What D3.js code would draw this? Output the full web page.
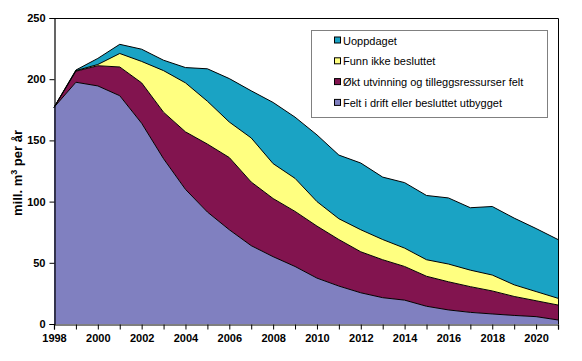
<!DOCTYPE html>
<html>
<head>
<meta charset="utf-8">
<script src="https://cdn.jsdelivr.net/npm/d3@7"></script>
<style>
  body { margin: 0; background: #fff; }
  text { font-family: Arial, "Liberation Sans", sans-serif; }
</style>
</head>
<body>
<div id="myVis"></div>
<script>
var margin = {top: 18, right: 24, bottom: 37, left: 54},
    width = 582 - margin.left - margin.right,
    height = 361 - margin.top - margin.bottom;

// data (mill. m3 per år)
const years = d3.range(1998, 2022);
const felt = [177, 197.5, 194.5, 186.5, 164, 135, 110, 91.5, 77, 64, 55, 47, 37.5, 31, 25.5, 21.5, 19.5, 14.5, 11.5, 9.5, 8.2, 7, 6, 3.3];
const okt = [0, 9, 16.5, 23.5, 33, 38, 47, 55.5, 59, 52, 47.5, 45, 42.5, 38, 33.5, 31, 27.5, 24.5, 23, 21, 18.8, 15.5, 13, 12.2];
const funn = [0, 0.5, 1, 11, 17.5, 34, 40, 35, 29, 36, 28.5, 27, 20, 17, 18, 16.5, 15, 13.5, 14.5, 13.5, 13, 9.5, 7.5, 5.5];
const uopp = [0, 0.5, 5, 7.5, 10, 8.5, 12.5, 26.5, 35.5, 38.5, 50, 50, 54.5, 52, 54.5, 51, 53.5, 52.5, 54, 51, 56, 54.5, 51.5, 48];

const seriesKeys = ["felt", "okt", "funn", "uopp"];
const seriesNames = {
  uopp: "Uoppdaget",
  funn: "Funn ikke besluttet",
  okt: "Økt utvinning og tilleggsressurser felt",
  felt: "Felt i drift eller besluttet utbygget"
};
const colors = {felt: "#8080c0", okt: "#82144f", funn: "#ffff80", uopp: "#1aa3c4"};
const yTicks = [0, 50, 100, 150, 200, 250];
const xLabels = d3.range(1998, 2022, 2);

const table = years.map((y, i) => ({year: y, felt: felt[i], okt: okt[i], funn: funn[i], uopp: uopp[i]}));

const svg = d3.select("#myVis")
  .append("svg")
    .attr("width", width + margin.left + margin.right)
    .attr("height", height + margin.top + margin.bottom);

const canvas = svg.append("g")
    .attr("transform", "translate(" + margin.left + "," + margin.top + ")");

var xScale = d3.scaleLinear().domain([1998, 2021]).range([0, width]);
var yScale = d3.scaleLinear().domain([0, 250]).range([height, 0]);

const stacked = d3.stack().keys(seriesKeys)(table);

const area = d3.area()
  .x(d => xScale(d.data.year))
  .y0(d => yScale(d[0]))
  .y1(d => yScale(d[1]));

const topLine = d3.line()
  .x(d => xScale(d.data.year))
  .y(d => yScale(d[1]));

canvas.selectAll(".area")
  .data(stacked)
  .enter()
  .append("path")
    .attr("class", "area")
    .attr("d", area)
    .attr("fill", d => colors[d.key]);

canvas.selectAll(".edge")
  .data(stacked)
  .enter()
  .append("path")
    .attr("class", "edge")
    .attr("d", topLine)
    .attr("fill", "none")
    .attr("stroke", "#000")
    .attr("stroke-width", 1);

// frame top + right
canvas.append("path")
  .attr("d", "M0.5,0.5H" + (width + 0.5) + "V" + height)
  .attr("fill", "none")
  .attr("stroke", "#000");

// y axis
const yAxis = canvas.append("g")
  .attr("transform", "translate(0.5,0)")
  .call(d3.axisLeft(yScale).tickValues(yTicks).tickSize(5).tickPadding(4));

// x axis: ticks every year, labels every second year
const xAxis = canvas.append("g")
  .attr("transform", "translate(0," + (height + 0.5) + ")")
  .call(d3.axisBottom(xScale).tickValues(years).tickSize(5).tickPadding(5)
    .tickFormat(d => xLabels.includes(d) ? String(d) : ""));

[yAxis, xAxis].forEach(ax => {
  ax.select(".domain").attr("stroke", "#000").attr("stroke-width", 1.2);
  ax.selectAll(".tick line").attr("stroke", "#000");
  ax.selectAll("text")
    .attr("fill", "#000")
    .style("font-size", "11px")
    .style("font-weight", "bold")
    .style("font-family", "Arial, 'Liberation Sans', sans-serif");
});

// y label
const yLab = svg.append("text")
  .attr("transform", "translate(22," + (margin.top + height / 2 + 2) + ") rotate(-90)")
  .attr("text-anchor", "middle")
  .style("font-size", "13px")
  .style("font-weight", "bold");
yLab.append("tspan").text("mill. m");
yLab.append("tspan").attr("dy", -5).style("font-size", "9px").text("3");
yLab.append("tspan").attr("dy", 5).text("  per år");

// legend
const legend = svg.append("g").attr("transform", "translate(311,30)");
legend.append("rect")
  .attr("x", 0.5).attr("y", 0.5)
  .attr("width", 236).attr("height", 87)
  .attr("fill", "#fff")
  .attr("stroke", "#808080");

const legendOrder = ["uopp", "funn", "okt", "felt"];
const rows = legend.selectAll(".row")
  .data(legendOrder)
  .enter()
  .append("g")
    .attr("class", "row")
    .attr("transform", (d, i) => "translate(23," + (10.5 + i * 20.8) + ")");

rows.append("rect")
  .attr("x", 0.5).attr("y", -3.5)
  .attr("width", 6).attr("height", 6)
  .attr("fill", d => colors[d])
  .attr("stroke", "#000");

rows.append("text")
  .attr("x", 9)
  .attr("y", 4)
  .style("font-size", "11px")
  .text(d => seriesNames[d]);
</script>
</body>
</html>
